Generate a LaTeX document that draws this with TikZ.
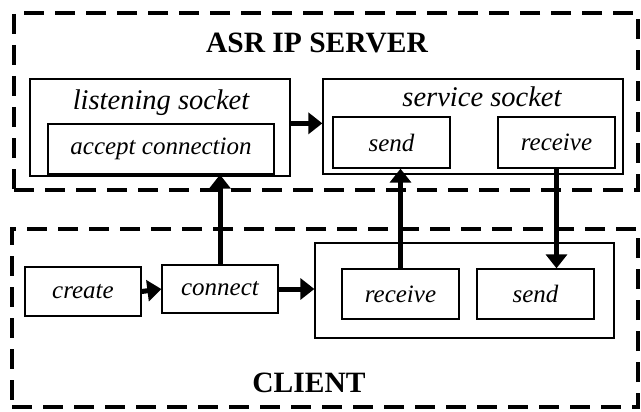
\documentclass[tikz,border=0pt]{standalone}
\usepackage{fontspec}
\setmainfont{Liberation Serif}
\usetikzlibrary{arrows.meta}
\begin{document}
\begin{tikzpicture}[x=1pt,y=-1pt,
  dbox/.style={draw,line width=4pt,dash pattern=on 20pt off 11pt,inner sep=0pt},
  obox/.style={draw,line width=1.3pt,inner sep=0pt},
  ibox/.style={draw,line width=1.3pt,inner sep=0pt,font=\fontsize{25}{25}\selectfont\itshape},
  lbl/.style={anchor=base,inner sep=0pt,font=\fontsize{28.5}{28.5}\selectfont\itshape},
  ttl/.style={anchor=base,inner sep=0pt,font=\fontsize{29.5}{29.5}\selectfont\bfseries},
  arr/.style={line width=5pt,-{Triangle[length=14pt,width=21pt]}}]
\useasboundingbox (0,0) rectangle (641,412);
% dashed containers
\node[dbox,minimum width=624pt,minimum height=177pt] (server) at (326,101.5) {};
\node[dbox,minimum width=626pt,minimum height=178pt] (client) at (325,318) {};
\node[ttl] (stitle) at (317,53) {ASR IP SERVER};
\node[ttl] (ctitle) at (309,392) {CLIENT};
% server side
\node[obox,minimum width=260pt,minimum height=97pt] (listen) at (160,127.5) {};
\node[lbl] (listenl) at (161,110) {listening socket};
\node[ibox,minimum width=226pt,minimum height=50pt] (accept) at (161,149) {accept connection};
\node[obox,minimum width=300pt,minimum height=95pt] (service) at (473,126.5) {};
\node[lbl] (servicel) at (482,107) {service socket};
\node[ibox,minimum width=117pt,minimum height=51pt] (ssend) at (391.5,142.5) {send};
\node[ibox,minimum width=117pt,minimum height=51pt] (srecv) at (556.5,142.5) {receive};
% client side
\node[ibox,minimum width=116pt,minimum height=49pt] (create) at (83,291.5) {create};
\node[ibox,minimum width=116pt,minimum height=48pt] (connect) at (220,289) {connect};
\node[obox,minimum width=299pt,minimum height=95pt] (cbox) at (464.5,290.5) {};
\node[ibox,minimum width=117pt,minimum height=50pt] (crecv) at (400.5,294) {receive};
\node[ibox,minimum width=117pt,minimum height=50pt] (csend) at (535.5,294) {send};
% arrows
\draw[arr] (listen.east |- accept.north) -- (service.west |- accept.north);
\draw[arr] (create.east) -- (connect.west);
\draw[arr] (connect.east) -- (connect.east -| cbox.west);
\draw[arr] (connect.north) -- (connect.north |- accept.south);
\draw[arr] (crecv.north) -- (crecv.north |- ssend.south);
\draw[arr] (srecv.south) -- (srecv.south |- csend.north);
\end{tikzpicture}
\end{document}
